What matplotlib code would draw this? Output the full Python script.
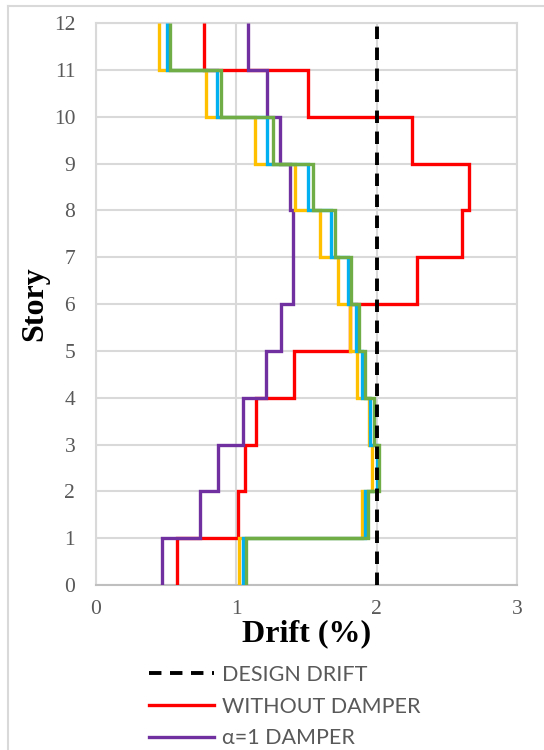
import numpy as np
import matplotlib
matplotlib.use('Agg')
import matplotlib.pyplot as plt
from matplotlib.lines import Line2D

# story edges and drift (%) per story, ground -> roof
stories = np.arange(0, 13)
design_drift = 2.0
without_damper = [0.575, 1.01, 1.06, 1.14, 1.41, 1.81, 2.285, 2.605, 2.655, 2.25, 1.51, 0.77]
alpha1_damper = [0.473, 0.74, 0.87, 1.05, 1.21, 1.32, 1.405, 1.405, 1.38, 1.31, 1.22, 1.085]
yellow_case = [1.02, 1.893, 1.969, 1.945, 1.862, 1.81, 1.727, 1.596, 1.418, 1.133, 0.784, 0.451]
blue_case = [1.045, 1.917, 2.0, 1.952, 1.898, 1.853, 1.793, 1.675, 1.513, 1.221, 0.86, 0.504]
green_case = [1.069, 1.94, 2.017, 1.98, 1.917, 1.876, 1.815, 1.703, 1.549, 1.264, 0.891, 0.527]

grid_c = '#D9D9D9'
txt_c = '#595959'

plt.rcParams['font.family'] = 'Liberation Serif'

fig = plt.figure(figsize=(5.44, 7.5), dpi=100)
ax = fig.add_axes([0.1765, 0.22, 0.774, 0.7493])

lw = 2.4
ax.stairs(without_damper, stories, orientation='horizontal', baseline=None,
          color='#FF0000', lw=lw, label='WITHOUT DAMPER', zorder=3)
ax.stairs(alpha1_damper, stories, orientation='horizontal', baseline=None,
          color='#7030A0', lw=lw, label='\u03b1=1 DAMPER', zorder=4)
ax.stairs(yellow_case, stories, orientation='horizontal', baseline=None,
          color='#FFC000', lw=lw, zorder=5)
ax.stairs(blue_case, stories, orientation='horizontal', baseline=None,
          color='#00B0F0', lw=lw, zorder=6)
ax.stairs(green_case, stories, orientation='horizontal', baseline=None,
          color='#70AD47', lw=lw, zorder=7)
ax.plot([design_drift, design_drift], [stories[0], stories[-1]], color='black',
        lw=2.8, dashes=(3.2, 2.2), label='DESIGN DRIFT', zorder=8)

ax.set_xlim(0, 3)
ax.set_ylim(0, 12)
ax.set_xticks([0, 1, 2, 3])
ax.set_yticks(stories)
ax.grid(True, color=grid_c, lw=1.5)
ax.set_axisbelow(True)
for s in ax.spines.values():
    s.set_color(grid_c)
    s.set_linewidth(1.5)
ax.spines['bottom'].set_color('#BFBFBF')
ax.tick_params(length=0, labelsize=15.5, labelcolor=txt_c, pad=11)
ax.tick_params(axis='y', pad=15)

ax.set_xlabel('Drift (%)', fontsize=23, fontweight='bold', labelpad=0)
ax.set_ylabel('Story', fontsize=23, fontweight='bold')
ax.yaxis.set_label_coords(-0.11, 0.5)

h, l = ax.get_legend_handles_labels()
order = [l.index('DESIGN DRIFT'), l.index('WITHOUT DAMPER'), l.index('\u03b1=1 DAMPER')]
fig.legend([h[i] for i in order], [l[i] for i in order], loc='upper left',
           bbox_to_anchor=(0.255, 0.128), frameon=False,
           prop={'family': 'Lato', 'size': 15.5}, labelcolor=txt_c,
           handlelength=3.0, handletextpad=0.35, labelspacing=0.55, borderpad=0)

# outer chart-area frame (only left/top visible in crop)
fig.add_artist(Line2D([0.0147, 0.0147], [0, 0.992], color=grid_c, lw=1.5))
fig.add_artist(Line2D([0.0147, 1], [0.992, 0.992], color=grid_c, lw=1.5))

fig.savefig('out.png', dpi=100)
